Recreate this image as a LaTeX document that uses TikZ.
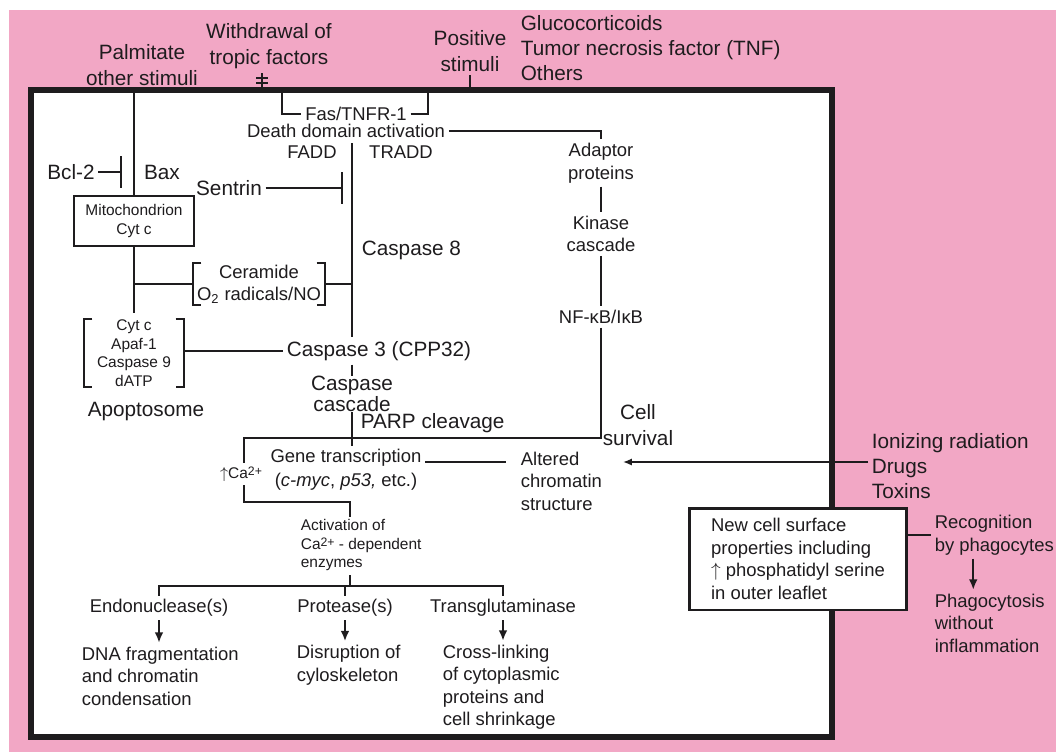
\documentclass[tikz,border=0pt]{standalone}
\usepackage{fontspec}
\setmainfont{Liberation Sans}
\usetikzlibrary{arrows.meta, positioning}
\definecolor{bgpink}{RGB}{242,167,197}
\definecolor{ink}{RGB}{30,28,30}

\tikzset{
  bigtxt/.style={font=\fontsize{11.8}{14.4}\selectfont, text=ink, inner sep=2pt, align=center},
  medtxt/.style={font=\fontsize{10.5}{12.8}\selectfont, text=ink, inner sep=2pt, align=center},
  smalltxt/.style={font=\fontsize{8.8}{10.6}\selectfont, text=ink, inner sep=2pt, align=center},
  link/.style={draw=ink, line width=1.1pt},
  inhib/.style={link, -{Bar[width=18pt]}},
  downarr/.style={link, line width=1.3pt, -{Latex[length=6pt,width=5pt]}},
}

\begin{document}
\begin{tikzpicture}[x=0.02cm, y=-0.02cm, >=Latex]
  \useasboundingbox (0,0) rectangle (1056,752);
  \fill[bgpink] (9,10) rectangle (1056,752);

  % the cell
  \draw[ink, line width=3pt, fill=white] (31,90) rectangle (832,737);

  % stimuli outside
  \node[bigtxt] (palm) at (142,65) {Palmitate\\other stimuli};
  \node[bigtxt] (withd) at (269,46) {Withdrawal of\\tropic factors};
  \node[bigtxt] (posit) at (470,51) {Positive\\stimuli};
  \node[bigtxt, anchor=west, align=left] (gluco) at (517,48)
    {Glucocorticoids\\Tumor necrosis factor (TNF)\\Others};

  % points on the membrane
  \coordinate (mPalm) at (134,90);
  \coordinate (mWith) at (262,90);
  \coordinate (mFasL) at (282,90);
  \coordinate (mFasR) at (428,90);
  \coordinate (mPos) at (470,90);

  % withdrawal mark
  \coordinate (wTop) at (262,73);
  \draw[link] (wTop) -- (mWith);
  \draw[link] (256,78) -- (268,78) (256,83) -- (268,83);
  \draw[link] (posit.south) -- (mPos);

  % mitochondrial branch
  \node[smalltxt, draw=ink, line width=1.1pt,
        minimum width=2.4cm, minimum height=1cm]
    (mito) at (134,221) {Mitochondrion\\Cyt c};
  \node[bigtxt] (bcl) at (71,172) {Bcl-2};
  \node[bigtxt] (bax) at (162,172) {Bax};
  \coordinate (bclT) at (122,172);
  \draw[inhib] (bcl.east) -- (bclT);
  \draw[link] (mPalm) -- (mito.north);

  \node[bigtxt] (sentrin) at (229,188) {Sentrin};
  \coordinate (sentT) at (343,188);
  \draw[inhib] (sentrin.east) -- (sentT);

  % death receptor
  \node[medtxt] (fas) at (356,114) {Fas/TNFR-1};
  \node[medtxt] (death) at (346,131) {Death domain activation};
  \node[medtxt] (fadd) at (312,152) {FADD};
  \node[medtxt] (tradd) at (401,152) {TRADD};
  \draw[link] (mFasL) |- (fas.west);
  \draw[link] (fas.east) -| (mFasR);

  % caspase chain
  \coordinate (c8top) at (352,143);
  \node[bigtxt, anchor=west] (casp8) at (358,250) {Caspase 8};
  \node[bigtxt] (casp3) at (379,351) {Caspase 3 (CPP32)};
  \draw[link] (c8top) -- (c8top |- casp3.north);

  \node[medtxt, inner sep=0pt, minimum width=2.64cm, minimum height=0.84cm]
    (ceram) at (259,284) {Ceramide\\O\textsubscript{2} radicals/NO};
  \draw[link] ([xshift=5pt]ceram.north west) -| (ceram.south west) -- ([xshift=5pt]ceram.south west);
  \draw[link] ([xshift=-5pt]ceram.north east) -| (ceram.south east) -- ([xshift=-5pt]ceram.south east);
  \draw[link] (ceram.east) -- (ceram.east -| c8top);
  \draw[link] (ceram.west) -- (ceram.west -| mito.south);

  % apoptosome
  \node[smalltxt, inner sep=0pt, minimum width=2cm, minimum height=1.24cm]
    (apopt) at (134,353) {Cyt c\\Apaf-1\\Caspase 9\\dATP};
  \draw[link] ([xshift=5pt]apopt.north west) -| (apopt.south west) -- ([xshift=5pt]apopt.south west);
  \draw[link] ([xshift=-5pt]apopt.north east) -| (apopt.south east) -- ([xshift=-5pt]apopt.south east);
  \coordinate (mitoEnd) at (134,313);
  \draw[link] (mito.south) -- (mitoEnd);
  \draw[link] (apopt.east |- casp3.west) -- (casp3.west);
  \node[bigtxt] (apsome) at (146,412) {Apoptosome};

  \node[bigtxt, inner sep=0pt, font=\fontsize{11.8}{10.5}\selectfont]
    (cascade) at (352,394) {Caspase\\cascade};
  \draw[link] (casp3.south -| cascade.north) -- (cascade.north);
  \node[bigtxt, anchor=west] (parp) at (357,423) {PARP cleavage};

  % survival branch
  \node[medtxt] (adapt) at (601,163) {Adaptor\\proteins};
  \node[medtxt] (kinase) at (601,234) {Kinase\\cascade};
  \node[medtxt] (nfkb) at (601,317) {NF-κB/IκB};
  \draw[link] (death.east) -| (adapt.north);
  \draw[link] (adapt.south) -- (kinase.north);
  \draw[link] (kinase.south) -- (nfkb.north);
  \node[bigtxt] (cell) at (638,425) {Cell\\survival};

  % nucleus events
  \node[medtxt, font=\fontsize{10.5}{13.6}\selectfont]
    (gene) at (346,470) {Gene transcription\\(\textit{c-myc}, \textit{p53,} etc.)};
  \draw[link] (cascade.south) -- (cascade.south |- gene.north);

  \node[smalltxt] (ca) at (241,474) {$\uparrow$Ca\raisebox{0.35ex}{\scriptsize 2+}};
  \coordinate (loopL) at (244,438);
  \draw[link] (nfkb.south) |- (loopL) -- (loopL |- ca.north);
  \coordinate (caBend) at (244,502);
  \coordinate (actIn) at (350,517);
  \draw[link] (loopL |- ca.south) -- (caBend) -| (actIn);
  \node[smalltxt, anchor=west, align=left] (activ) at (297,545)
    {Activation of\\Ca\raisebox{0.35ex}{\scriptsize 2+} - dependent\\enzymes};

  \node[medtxt, anchor=west, align=left] (altered) at (517,481)
    {Altered\\chromatin\\structure};
  \draw[link, shorten >=6pt] ([yshift=4.5pt]gene.east) -- ([yshift=4.5pt]gene.east -| altered.west);

  \node[bigtxt, anchor=west, align=left] (ioniz) at (868,466)
    {Ionizing radiation\\Drugs\\Toxins};
  \coordinate (altTip) at (623,462);
  \draw[link, line width=0.9pt, -{Latex[length=5pt,width=4pt]}] (ioniz.west |- altTip) -- (altTip);

  % membrane changes
  \node[medtxt, draw=ink, line width=1.7pt, fill=white, align=left,
        minimum width=4.34cm, minimum height=2.04cm]
    (surf) at (798,559)
    {New cell surface\\properties including\\$\uparrow$ phosphatidyl serine\\in outer leaflet};
  \node[medtxt, anchor=west, align=left] (recog) at (931,535) {Recognition\\by phagocytes};
  \draw[link] (surf.east |- recog.west) -- (recog.west);
  \node[medtxt, anchor=west, align=left] (phago) at (931,623)
    {Phagocytosis\\without\\inflammation};
  \draw[downarr] ([xshift=-12pt]recog.south) -- ([xshift=-12pt]recog.south |- phago.north);

  % enzymes
  \coordinate (actOut) at (350,575);
  \coordinate (actJ) at (350,586);
  \draw[link] (actOut) -- (actJ);
  \node[medtxt] (endo) at (159,608) {Endonuclease(s)};
  \node[medtxt] (prot) at (345,608) {Protease(s)};
  \node[medtxt] (transg) at (503,608) {Transglutaminase};
  \draw[link] (endo.north) |- (actJ) -| (transg.north);
  \draw[link] (prot.north) -- (prot.north |- actJ);

  \node[medtxt, anchor=west, align=left] (dna) at (78,676)
    {DNA fragmentation\\and chromatin\\condensation};
  \node[medtxt, anchor=west, align=left] (disr) at (293,665)
    {Disruption of\\cyloskeleton};
  \node[medtxt, anchor=west, align=left] (cross) at (439,687)
    {Cross-linking\\of cytoplasmic\\proteins and\\cell shrinkage};
  \draw[downarr] (endo.south) -- (endo.south |- dna.north);
  \draw[downarr] (prot.south) -- (prot.south |- disr.north);
  \draw[downarr] (transg.south) -- (transg.south |- cross.north);
\end{tikzpicture}
\end{document}
